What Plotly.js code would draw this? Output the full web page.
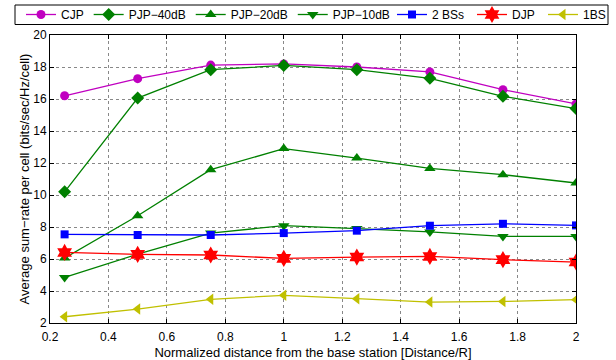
<!DOCTYPE html>
<html>
<head>
<meta charset="utf-8">
<script src="https://cdn.plot.ly/plotly-3.0.1.min.js"></script>
<style>html,body{margin:0;padding:0;background:#fff;}#chart{width:616px;height:360px;}</style>
</head>
<body>
<div id="chart"></div>
<script>
const xDist = [0.25, 0.5, 0.75, 1, 1.25, 1.5, 1.75, 2];
const cjp   = [16.2, 17.27, 18.12, 18.19, 18.0, 17.69, 16.58, 15.69];
const pjp40 = [10.2, 16.06, 17.83, 18.1, 17.83, 17.29, 16.17, 15.4];
const pjp20 = [6.06, 8.7, 11.58, 12.9, 12.31, 11.66, 11.27, 10.75];
const pjp10 = [4.85, 6.3, 7.62, 8.08, 7.9, 7.69, 7.41, 7.41];
const bs2   = [7.54, 7.5, 7.5, 7.62, 7.77, 8.08, 8.2, 8.1];
const djp   = [6.41, 6.29, 6.25, 6.04, 6.12, 6.16, 5.96, 5.81];
const bs1   = [2.39, 2.87, 3.48, 3.73, 3.52, 3.31, 3.35, 3.46];
const seriesNames = ['CJP', 'PJP\u221240dB', 'PJP\u221220dB', 'PJP\u221210dB', '2 BSs', 'DJP', '1BS'];

const styles = [
  {c:'#c000c0', s:'circle', z:9, lg:'legend'},
  {c:'#008000', s:'diamond', z:10, lg:'legend'},
  {c:'#008000', s:'triangle-up', z:10, lg:'legend'},
  {c:'#008000', s:'triangle-down', z:10, lg:'legend'},
  {c:'#0000ff', s:'square', z:8, lg:'legend2'},
  {c:'#ff0000', s:'hexagram', z:13, lg:'legend3'},
  {c:'#c0c000', s:'triangle-left', z:10, lg:'legend4'}
];
const ys = [cjp, pjp40, pjp20, pjp10, bs2, djp, bs1];
const traces = ys.map((y, i) => ({
  x: xDist, y: y, name: seriesNames[i], type: 'scatter', mode: 'lines+markers',
  legend: styles[i].lg,
  line: {color: styles[i].c, width: 1.3},
  marker: {color: styles[i].c, symbol: styles[i].s, size: styles[i].z}
}));

const font = {family: 'Liberation Sans, Arial, Helvetica, sans-serif', size: 12, color: '#000'};
// plot area: left 50, right 576, top 35, bottom 323 (pixels)
const pxX = p => (p - 50) / 526;
const pxY = p => 1 + (35 - p) / 288;
const legBase = {
  orientation: 'h', yanchor: 'middle', xanchor: 'left', y: pxY(14.5),
  borderwidth: 0, bgcolor: 'rgba(0,0,0,0)',
  font: {family: font.family, size: 12, color: '#000'},
  tracegroupgap: 0, itemwidth: 30
};
const layout = {
  width: 616, height: 360,
  margin: {l: 50, r: 40, t: 35, b: 37, autoexpand: false},
  paper_bgcolor: '#fff', plot_bgcolor: '#fff',
  font: font,
  showlegend: true,
  legend: Object.assign({}, legBase, {x: pxX(21)}),
  legend2: Object.assign({}, legBase, {x: pxX(392)}),
  legend3: Object.assign({}, legBase, {x: pxX(472)}),
  legend4: Object.assign({}, legBase, {x: pxX(543)}),
  shapes: [{
    type: 'rect', xref: 'paper', yref: 'paper', layer: 'above',
    x0: pxX(15), x1: pxX(608), y0: pxY(24.5), y1: pxY(5),
    line: {color: '#000', width: 1}, fillcolor: '#fff'
  }],
  xaxis: {
    range: [0.2, 2], dtick: 0.2, tick0: 0.2,
    showline: true, linecolor: '#000', linewidth: 1, mirror: 'ticks',
    ticks: 'inside', ticklen: 4, tickcolor: '#000',
    showgrid: true, gridcolor: '#888', griddash: 'dot', gridwidth: 1,
    zeroline: false, ticklabelstandoff: 3,
    title: {text: 'Normalized distance from the base station [Distance/R]', font: {size: 13}, standoff: 4},
    tickfont: {size: 12}
  },
  yaxis: {
    range: [2, 20], dtick: 2,
    showline: true, linecolor: '#000', linewidth: 1, mirror: 'ticks',
    ticks: 'inside', ticklen: 4, tickcolor: '#000',
    showgrid: true, gridcolor: '#888', griddash: 'dot', gridwidth: 1,
    zeroline: false,
    title: {text: 'Average sum\u2212rate per cell (bits/sec/Hz/cell)', font: {size: 13}, standoff: 0},
    tickfont: {size: 12}
  }
};
Plotly.newPlot('chart', traces, layout, {displayModeBar: false, staticPlot: true});
</script>
</body>
</html>
